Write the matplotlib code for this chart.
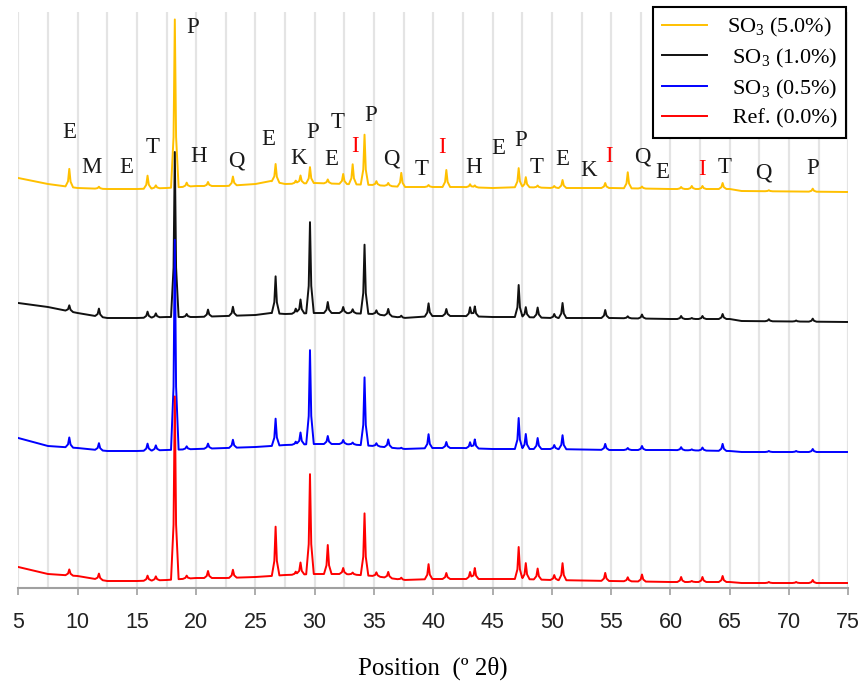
import numpy as np
import matplotlib
matplotlib.use("Agg")
import matplotlib.pyplot as plt

plt.rcParams['font.family'] = ['Liberation Serif', 'DejaVu Serif']
plt.rcParams['mathtext.default'] = 'regular'

# baseline anchors (2theta) shared by all patterns
base_x = [5, 7.5, 10, 12.5, 15, 17.5, 20, 22.5, 25, 26.3, 27.5, 30, 32.5, 35,
          37.5, 40, 42.5, 45, 47.5, 50, 55, 60, 65, 66, 75]

base_so3_50 = [410, 404, 400, 399, 399, 400, 402, 402, 404, 407, 404, 405, 404, 403,
               401, 401, 401, 400, 401, 400, 400, 399, 399, 397, 396]
base_so3_10 = [285, 281, 275, 270, 270, 271, 271, 272, 273, 275, 274, 275, 275, 274,
               270, 272, 272, 271, 271, 270, 270, 269, 269, 267, 266]
base_so3_05 = [150, 142, 140, 137, 137, 138, 139, 140, 141, 142, 143, 144, 144, 142,
               139, 140, 140, 139, 139, 139, 138, 138, 137, 136, 136]
base_ref = [21, 14, 12, 7, 7, 8, 10, 10, 11, 12, 13, 14, 14, 12,
            8, 9, 9, 9, 9, 8, 7, 6, 6, 5, 5]

# peak positions (2theta) and heights above baseline for each pattern
peak_pos = [9.3, 11.8, 15.9, 16.6, 18.2, 19.2, 21.0, 23.1, 26.7, 28.4, 28.8, 29.6,
            31.1, 32.4, 33.2, 34.2, 35.2, 36.2, 37.3, 39.6, 41.1, 43.1, 43.5, 47.2,
            47.8, 48.8, 50.2, 50.9, 54.5, 56.4, 57.6, 60.9, 61.8, 62.7, 64.4, 68.3,
            70.6, 72.0]

h_so3_50 = [18, 2, 13, 3, 168, 4, 4, 9, 18, 3, 8, 16, 4, 10, 20, 50, 4, 3, 14, 2,
            17, 3, 2, 19, 10, 2, 2, 8, 5, 16, 2, 2, 3, 3, 6, 1, 0, 3]
h_so3_10 = [6, 8, 6, 4, 165, 3, 7, 9, 37, 5, 14, 91, 11, 6, 4, 69, 4, 7, 2, 13,
            7, 9, 10, 32, 10, 10, 4, 15, 8, 2, 4, 3, 1, 3, 5, 2, 1, 3]
h_so3_05 = [10, 7, 7, 5, 210, 3, 5, 8, 27, 3, 12, 94, 8, 4, 2, 68, 3, 8, 1, 14,
            6, 6, 9, 31, 15, 11, 4, 14, 6, 2, 4, 3, 1, 3, 7, 1, 1, 3]
h_ref = [6, 6, 5, 4, 183, 3, 7, 8, 49, 3, 12, 100, 29, 6, 2, 62, 4, 6, 2, 15,
         6, 7, 11, 32, 16, 11, 5, 17, 8, 4, 7, 5, 1, 5, 6, 1, 1, 3]

series_names = ['SO$_3$ (5.0%)', ' SO$_3$ (1.0%)', ' SO$_3$ (0.5%)', ' Ref. (0.0%)']
series_colors = ['#FFC000', '#111111', '#0000FF', '#FF0000']

# phase labels: letter, 2theta, height
lab_text = ['E', 'M', 'E', 'T', 'P', 'H', 'Q', 'E', 'K', 'P', 'T', 'E', 'I', 'P', 'Q',
            'T', 'I', 'H', 'E', 'P', 'T', 'E', 'K', 'I', 'Q', 'E', 'I', 'T', 'Q', 'P']
lab_x = [9.3, 11.2, 14.1, 16.3, 19.7, 20.2, 23.4, 26.1, 28.6, 29.8, 31.9, 31.4, 33.4,
         34.7, 36.5, 39.0, 40.7, 43.4, 45.5, 47.4, 48.7, 50.9, 53.1, 54.8, 57.6, 59.3,
         62.7, 64.6, 67.8, 72.0]
lab_y = [455, 420, 420, 440, 560, 431, 427, 448, 429, 455, 465, 428, 441, 472, 429,
         418, 440, 420, 439, 447, 420, 428, 417, 431, 431, 415, 418, 420, 415, 419]


def pattern(base_vals, heights, hw=0.32):
    pts = set(base_x)
    for p in peak_pos:
        pts.update([p - hw, p - hw / 3, p, p + hw / 3, p + hw])
    x = np.array(sorted(pts))
    y = np.interp(x, base_x, base_vals)
    for p, h in zip(peak_pos, heights):
        # slightly rounded-foot peak profile
        y = y + np.interp(x, [p - hw, p - hw / 3, p, p + hw / 3, p + hw],
                          [0, 0.3 * h, h, 0.3 * h, 0], left=0, right=0)
    return x, y


fig = plt.figure(figsize=(8.62, 6.81), dpi=100)
ax = fig.add_axes([18.3 / 862, 93 / 681, 830 / 862, 576 / 681])

bases = [base_so3_50, base_so3_10, base_so3_05, base_ref]
heights = [h_so3_50, h_so3_10, h_so3_05, h_ref]
for i, (b, h) in enumerate(zip(bases, heights)):
    x, y = pattern(b, h)
    ax.plot(x, y, color=series_colors[i], lw=1.4, label=series_names[i], zorder=2 + i)

for t, x, y in zip(lab_text, lab_x, lab_y):
    c = 'red' if t == 'I' else '#1a1a1a'
    ax.text(x, y, t, ha='center', va='center', fontsize=16.5, color=c, zorder=10)

ax.set_xlim(5, 75)
ax.set_ylim(0, 576)
ax.set_xticks(range(5, 80, 5))
ax.set_xticks(np.arange(7.5, 75, 5), minor=True)
ax.set_yticks([])
ax.grid(True, which='both', axis='x', color='#e4e4e4', lw=1.6, zorder=0)
ax.set_axisbelow(True)
for s in ['left', 'right', 'top']:
    ax.spines[s].set_visible(False)
ax.spines['bottom'].set_color('#a0a0a0')
ax.spines['bottom'].set_linewidth(1.5)
ax.tick_params(axis='x', which='major', length=5, width=1.2, color='#a0a0a0', pad=12,
               labelsize=15.5, labelcolor='#222222')
ax.tick_params(axis='x', which='minor', length=0)
for lbl in ax.get_xticklabels():
    lbl.set_fontfamily('Liberation Sans')

ax.set_xlabel('Position  (º 2θ)', fontsize=18, labelpad=17)

leg = ax.legend(loc='upper right', bbox_to_anchor=(846 / 862, 1 - 7 / 681),
                bbox_transform=fig.transFigure, fontsize=16, fancybox=False,
                framealpha=1, edgecolor='black', borderpad=0.4, labelspacing=0.35,
                handlelength=2.0, handletextpad=0.9, borderaxespad=0)
leg.get_frame().set_linewidth(1.5)

fig.savefig('out.png', dpi=100)
